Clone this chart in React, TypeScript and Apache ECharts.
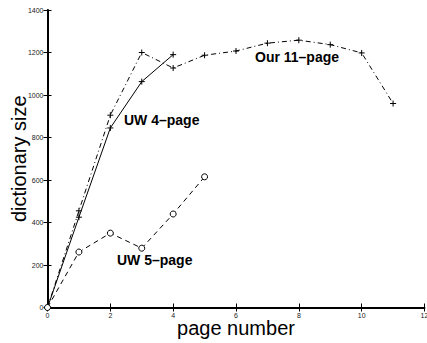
import React, { useEffect, useRef } from "react";
import * as echarts from "echarts";

const pages11 = [0, 1, 2, 3, 4, 5, 6, 7, 8, 9, 10, 11];
const our11 = [0, 455, 905, 1200, 1127, 1187, 1207, 1244, 1258, 1237, 1198, 960];
const pages4 = [0, 1, 2, 3, 4];
const uw4 = [0, 425, 845, 1063, 1190];
const pages5 = [0, 1, 2, 3, 4, 5];
const uw5 = [0, 261, 350, 279, 440, 615];
const xTicks = [0, 2, 4, 6, 8, 10, 12];
const yTicks = [0, 200, 400, 600, 800, 1000, 1200, 1400];
const seriesNames = ["Our 11\u2013page", "UW 4\u2013page", "UW 5\u2013page"];

const plus = "path://M0,-1L0,1M-1,0L1,0";

export default function App() {
  const ref = useRef<HTMLDivElement>(null);
  useEffect(() => {
    if (!ref.current) return;
    const chart = echarts.init(ref.current, null, { renderer: "svg" });
    const font = "'Liberation Sans', Arial, Helvetica, sans-serif";
    const tickLabel = {
      fontSize: 7,
      color: "#222",
      fontFamily: font,
      formatter: (v: number) => String(v),
    };
    const zip = (xs: number[], ys: number[]) => xs.map((x, i) => [x, ys[i]]);
    chart.setOption({
      animation: false,
      backgroundColor: "#fff",
      grid: {
        left: 47.5,
        right: 2.5,
        top: 10,
        bottom: 35.5,
        containLabel: false,
        outerBoundsMode: "none",
      },
      xAxis: [
        {
          type: "value",
          min: xTicks[0],
          max: xTicks[xTicks.length - 1],
          interval: 2,
          position: "bottom",
          name: "page number",
          nameLocation: "middle",
          nameGap: 20.5,
          nameMoveOverlap: false,
          nameTextStyle: { fontSize: 20, color: "#000", fontFamily: font, verticalAlign: "middle" },
          axisLine: { lineStyle: { color: "#000", width: 2 } },
          axisTick: { inside: true, length: 4, lineStyle: { color: "#000", width: 1 } },
          axisLabel: { ...tickLabel, margin: 4 },
          splitLine: { show: false },
        },
        {
          type: "value",
          min: xTicks[0],
          max: xTicks[xTicks.length - 1],
          interval: 2,
          position: "top",
          axisLine: { lineStyle: { color: "#000", width: 1 } },
          axisTick: { inside: true, length: 4, lineStyle: { color: "#000", width: 1 } },
          axisLabel: { show: false },
          splitLine: { show: false },
        },
      ],
      yAxis: [
        {
          type: "value",
          min: yTicks[0],
          max: yTicks[yTicks.length - 1],
          interval: 200,
          position: "left",
          name: "dictionary size",
          nameLocation: "middle",
          nameGap: 28.5,
          nameMoveOverlap: false,
          nameTextStyle: { fontSize: 20, color: "#000", fontFamily: font, verticalAlign: "middle" },
          axisLine: { lineStyle: { color: "#000", width: 2 } },
          axisTick: { inside: true, length: 4, lineStyle: { color: "#000", width: 1 } },
          axisLabel: { ...tickLabel, margin: 4 },
          splitLine: { show: false },
        },
        {
          type: "value",
          min: yTicks[0],
          max: yTicks[yTicks.length - 1],
          interval: 200,
          position: "right",
          axisLine: { lineStyle: { color: "#000", width: 1 } },
          axisTick: { inside: true, length: 4, lineStyle: { color: "#000", width: 1 } },
          axisLabel: { show: false },
          splitLine: { show: false },
        },
      ],
      series: [
        {
          name: seriesNames[0],
          type: "line",
          data: zip(pages11, our11),
          symbol: plus,
          symbolSize: 6,
          itemStyle: { color: "transparent", borderColor: "#000", borderWidth: 1 },
          lineStyle: { color: "#000", width: 1, type: [5, 3, 1, 3] },
        },
        {
          name: seriesNames[1],
          type: "line",
          data: zip(pages4, uw4),
          symbol: plus,
          symbolSize: 6,
          itemStyle: { color: "transparent", borderColor: "#000", borderWidth: 1 },
          lineStyle: { color: "#000", width: 1, type: "solid" },
        },
        {
          name: seriesNames[2],
          type: "line",
          data: zip(pages5, uw5),
          symbol: "circle",
          symbolSize: 6,
          showAllSymbol: true,
          itemStyle: { color: "#fff", borderColor: "#000", borderWidth: 1 },
          lineStyle: { color: "#000", width: 1, type: [5, 4] },
        },
      ],
      graphic: [
        {
          type: "text",
          left: 255,
          top: 50,
          style: { text: seriesNames[0], font: `bold 14px ${font}`, fill: "#000" },
        },
        {
          type: "text",
          left: 124,
          top: 113,
          style: { text: seriesNames[1], font: `bold 14px ${font}`, fill: "#000" },
        },
        {
          type: "text",
          left: 117,
          top: 253,
          style: { text: seriesNames[2], font: `bold 14px ${font}`, fill: "#000" },
        },
      ],
    });
    return () => chart.dispose();
  }, []);
  return (
    <div
      ref={ref}
      style={{ position: "fixed", left: 0, top: 0, width: 427, height: 343, background: "#fff" }}
    />
  );
}
